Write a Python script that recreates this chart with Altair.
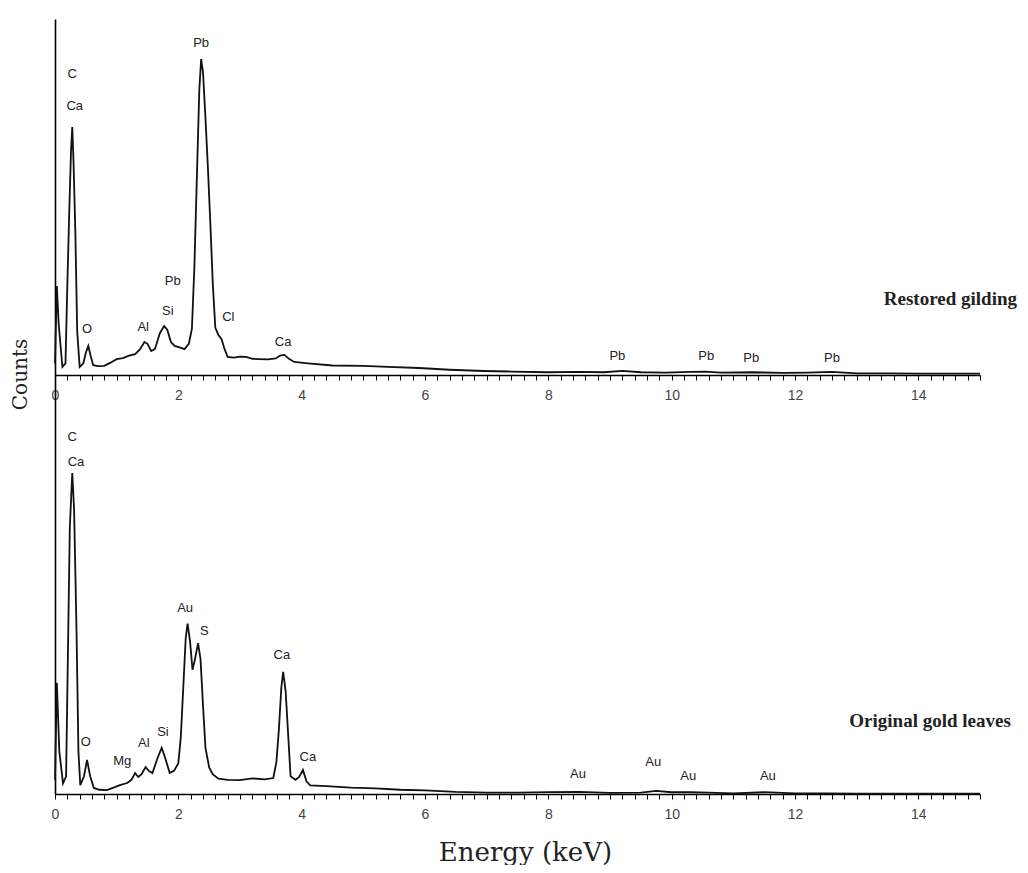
import altair as alt
import pandas as pd

# ---------------- data ----------------
# Restored gilding spectrum (energy keV, counts in arbitrary units)
top_kev = [0.00, 0.03, 0.06, 0.12, 0.17, 0.20, 0.23, 0.26, 0.28, 0.30, 0.33, 0.36, 0.40,
           0.46, 0.50, 0.54, 0.58, 0.62, 0.70, 0.80, 0.90, 1.00, 1.10, 1.20, 1.30, 1.38,
           1.45, 1.50, 1.56, 1.62, 1.70, 1.77, 1.82, 1.88, 1.94, 2.02, 2.10, 2.17, 2.22,
           2.26, 2.30, 2.34, 2.37, 2.40, 2.44, 2.48, 2.52, 2.56, 2.60, 2.65, 2.70, 2.75,
           2.80, 2.90, 3.00, 3.10, 3.20, 3.30, 3.45, 3.58, 3.65, 3.72, 3.80, 3.88, 4.10,
           4.50, 5.00, 5.40, 5.90, 6.40, 6.95, 7.40, 8.00, 8.50, 8.90, 9.20, 9.50, 9.90,
           10.30, 10.55, 10.80, 11.30, 11.80, 12.20, 12.60, 13.00, 13.50, 14.00, 14.50, 15.00]
top_counts = [3.0, 24.8, 14.0, 2.0, 3.0, 25.0, 45.0, 63.0, 69.6, 60.0, 40.0, 12.0, 2.0,
              3.0, 6.0, 7.9, 5.0, 2.5, 2.2, 2.3, 3.2, 4.2, 4.5, 5.2, 5.6, 7.0,
              9.0, 8.5, 6.5, 7.0, 11.5, 13.5, 12.5, 9.0, 7.9, 7.5, 7.0, 8.5, 12.7,
              30.0, 55.0, 80.0, 88.7, 85.0, 72.0, 58.0, 42.0, 25.0, 13.0, 11.0, 9.9, 7.0,
              4.8, 4.6, 4.9, 4.8, 4.3, 4.2, 4.1, 4.4, 5.2, 5.4, 4.2, 3.4, 3.0,
              2.4, 2.3, 2.0, 1.7, 1.2, 0.85, 0.7, 0.5, 0.6, 0.5, 0.9, 0.5, 0.4,
              0.6, 0.7, 0.4, 0.5, 0.3, 0.4, 0.6, 0.2, 0.2, 0.1, 0.1, 0.1]

# Original gold leaves spectrum
bot_kev = [0.00, 0.03, 0.07, 0.13, 0.18, 0.21, 0.24, 0.28, 0.31, 0.35, 0.38, 0.41, 0.47,
           0.52, 0.57, 0.63, 0.72, 0.84, 0.95, 1.05, 1.17, 1.24, 1.30, 1.35, 1.40, 1.47,
           1.52, 1.58, 1.66, 1.73, 1.79, 1.86, 1.93, 2.00, 2.04, 2.08, 2.12, 2.15, 2.19,
           2.23, 2.27, 2.32, 2.36, 2.40, 2.44, 2.50, 2.56, 2.65, 2.80, 3.00, 3.20, 3.40,
           3.54, 3.59, 3.63, 3.67, 3.70, 3.74, 3.78, 3.82, 3.90, 3.96, 4.02, 4.08, 4.14,
           4.40, 4.80, 5.20, 5.60, 6.00, 6.50, 7.00, 7.50, 8.00, 8.50, 9.00, 9.50, 9.75,
           10.00, 10.30, 10.60, 11.00, 11.50, 12.00, 12.50, 13.00, 14.00, 15.00]
bot_counts = [4.0, 31.3, 12.0, 3.0, 5.0, 40.0, 75.0, 90.4, 80.0, 45.0, 12.0, 2.5, 5.0,
              9.6, 5.0, 1.7, 1.2, 1.1, 1.8, 2.5, 3.1, 4.0, 5.9, 4.8, 5.5, 7.6,
              6.5, 5.9, 10.0, 13.0, 10.0, 5.9, 6.5, 8.7, 16.0, 30.0, 44.0, 48.0, 43.0,
              35.0, 38.0, 42.5, 38.0, 25.0, 13.0, 7.5, 5.5, 4.3, 4.0, 3.9, 4.4, 4.1,
              4.5, 9.0, 18.0, 30.0, 34.4, 29.0, 17.0, 5.0, 4.0, 4.8, 6.8, 3.5, 2.4,
              2.2, 1.8, 1.6, 1.2, 1.0, 0.6, 0.4, 0.4, 0.5, 0.6, 0.3, 0.4, 0.9,
              0.5, 0.5, 0.4, 0.2, 0.5, 0.2, 0.2, 0.1, 0.1, 0.1]

# peak labels
top_lab_text = ["C", "Ca", "Pb", "Pb", "Si", "Al", "O", "Cl", "Ca", "Pb", "Pb", "Pb", "Pb"]
top_lab_kev = [0.28, 0.32, 2.37, 1.91, 1.83, 1.43, 0.52, 2.81, 3.70, 9.12, 10.56, 11.29, 12.60]
top_lab_counts = [84.5, 75.5, 93.2, 26.2, 17.7, 13.2, 12.7, 16.1, 9.0, 5.1, 5.1, 4.5, 4.5]

bot_lab_text = ["C", "Ca", "Au", "S", "Ca", "Ca", "O", "Mg", "Al", "Si", "Au", "Au", "Au", "Au"]
bot_lab_kev = [0.28, 0.34, 2.11, 2.42, 3.68, 4.10, 0.50, 1.09, 1.44, 1.75, 8.48, 9.70, 10.27, 11.56]
bot_lab_counts = [100.6, 93.5, 52.4, 45.9, 39.2, 10.4, 14.6, 9.3, 14.4, 17.5, 5.6, 9.0, 5.1, 5.1]

# sample names
sample_text = ["Restored gilding", "Original gold leaves"]
sample_kev = [15.6, 15.5]
sample_counts = [139.4, 20.6]

# layout constants (panel stacking)
Y_MAX = 218.3
TOP_OFFSET = 118.3

# ---------------- frames ----------------
top_df = pd.DataFrame({"kev": top_kev, "counts": top_counts})
bot_df = pd.DataFrame({"kev": bot_kev, "counts": bot_counts})
top_lab = pd.DataFrame({"kev": top_lab_kev, "counts": top_lab_counts, "t": top_lab_text})
bot_lab = pd.DataFrame({"kev": bot_lab_kev, "counts": bot_lab_counts, "t": bot_lab_text})
samp = pd.DataFrame({"kev": sample_kev, "yv": sample_counts, "t": sample_text})

x_ticks = [round(i * 0.2, 1) for i in range(76)]
label_expr = ("(abs(datum.value - 2*round(datum.value/2)) < 0.001 && datum.value < 14.5)"
              " ? format(datum.value, 'd') : ''")

axis_common = dict(values=x_ticks, labelExpr=label_expr, tickSize=5, tickColor="black",
                   tickWidth=1, domainColor="black", domainWidth=1.6,
                   labelFont="Liberation Sans", labelFontSize=14, labelColor="#444",
                   labelPadding=8, grid=False, labelFlush=False)

xscale = alt.Scale(domain=[0, 15], nice=False, zero=False)

x_bottom = alt.X("kev:Q", scale=xscale,
                 axis=alt.Axis(title="Energy (keV)", titleFont="DejaVu Serif",
                               titleFontSize=26, titleFontWeight="normal",
                               titleColor="#222", titlePadding=18, titleX=470,
                               **axis_common))
x_top = alt.X("kev:Q", scale=xscale,
              axis=alt.Axis(title=None, orient="bottom", offset=-419, **axis_common))
x_none = alt.X("kev:Q", scale=xscale, axis=None)

y_enc = alt.Y("yv:Q", scale=alt.Scale(domain=[0, Y_MAX], nice=False, zero=True),
              axis=alt.Axis(title="Counts", ticks=False, labels=False, grid=False,
                            domainColor="black", domainWidth=1.6,
                            titleFont="DejaVu Serif", titleFontSize=20,
                            titleFontWeight="normal", titleColor="#222",
                            titleX=-35, titleY=355, titleAngle=270,
                            titleAlign="center", titleBaseline="middle"))

line_style = dict(color="#111", strokeWidth=1.8)
lab_style = dict(font="Liberation Sans", fontSize=13, color="#222",
                 align="center", baseline="middle")

bot_line = alt.Chart(bot_df).transform_calculate(yv="datum.counts").mark_line(
    **line_style).encode(x=x_bottom, y=y_enc)
bot_text = alt.Chart(bot_lab).transform_calculate(yv="datum.counts").mark_text(
    **lab_style).encode(x=x_none, y=y_enc, text="t:N")
top_line = alt.Chart(top_df).transform_calculate(
    yv=f"datum.counts + {TOP_OFFSET}").mark_line(**line_style).encode(x=x_top, y=y_enc)
top_text = alt.Chart(top_lab).transform_calculate(
    yv=f"datum.counts + {TOP_OFFSET}").mark_text(**lab_style).encode(
    x=x_none, y=y_enc, text="t:N")
samp_text = alt.Chart(samp).mark_text(
    font="Liberation Serif", fontSize=19, fontWeight="bold", color="#222",
    align="right", baseline="middle").encode(x=x_none, y=y_enc, text="t:N")

chart = alt.layer(bot_line, bot_text, top_line, top_text, samp_text).resolve_scale(
    x="independent"
).properties(
    width=925, height=775,
    padding={"left": 47, "top": 11, "right": 40, "bottom": 71},
    autosize=alt.AutoSizeParams(type="none"),
    background="white",
).configure_view(stroke=None)

chart.save("out.html", embed_options={"renderer": "svg", "actions": False})
